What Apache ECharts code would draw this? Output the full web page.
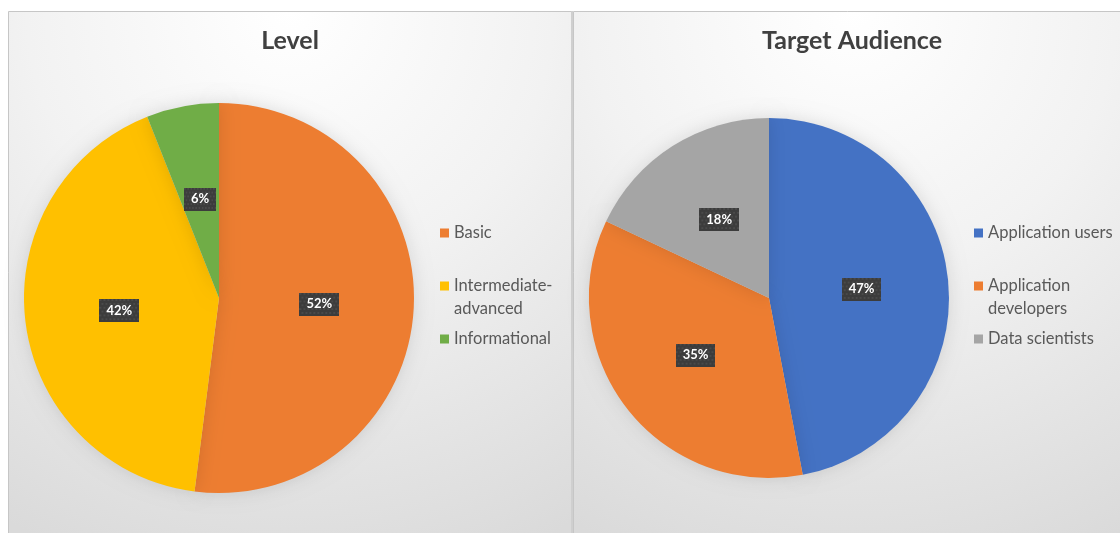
<!DOCTYPE html>
<html>
<head>
<meta charset="utf-8">
<script src="https://cdn.jsdelivr.net/npm/echarts@6/dist/echarts.min.js"></script>
<style>
html,body{margin:0;padding:0;background:#fff;}
#chart{width:1120px;height:533px;}
</style>
</head>
<body>
<div id="chart"></div>
<script>
// ---- data ----
const levelTitle = 'Level';
const levelCategories = ['Basic', 'Intermediate-advanced', 'Informational'];
const levelValues = [52, 42, 6];
const levelColors = ['#ED7D31', '#FFC000', '#70AD47'];

const audienceTitle = 'Target Audience';
const audienceCategories = ['Application users', 'Application developers', 'Data scientists'];
const audienceValues = [47, 35, 18];
const audienceColors = ['#4472C4', '#ED7D31', '#A5A5A5'];

const legendLabels = {
  'Intermediate-advanced': ' \nIntermediate-\nadvanced',
  'Application developers': ' \nApplication\ndevelopers'
};

const FONT = 'Lato, "Open Sans", sans-serif';

function toData(cats, vals, colors) {
  return cats.map((c, i) => ({ name: c, value: vals[i], itemStyle: { color: colors[i] } }));
}

// textured label background
function makePattern(w, h) {
  const c = document.createElement('canvas');
  c.width = w; c.height = h;
  const g = c.getContext('2d');
  g.fillStyle = '#3c3c3c';
  g.fillRect(0, 0, w, h);
  for (let y = 0; y < h; y += 4) {
    for (let x = ((y / 4) % 2) * 2; x < w; x += 4) {
      g.fillStyle = '#4a4a4a';
      g.fillRect(x, y, 2, 2);
    }
  }
  return c;
}
const labelBg = makePattern(40, 24);

function pieLabel() {
  return {
    show: true,
    position: 'inside',
    formatter: '{d}%',
    color: '#ffffff',
    fontFamily: FONT,
    fontWeight: 'bold',
    fontSize: 13,
    lineHeight: 15,
    backgroundColor: { image: labelBg },
    padding: [4, 7, 4, 7],
    shadowColor: 'rgba(0,0,0,0.35)',
    shadowBlur: 3,
    shadowOffsetX: 2,
    shadowOffsetY: 2
  };
}

function bgGradient() {
  return {
    type: 'radial', x: 0.5, y: 0.0, r: 1.1,
    colorStops: [
      { offset: 0, color: '#ffffff' },
      { offset: 0.45, color: '#f2f2f2' },
      { offset: 1, color: '#dadada' }
    ]
  };
}

const chart = echarts.init(document.getElementById('chart'), null, { renderer: 'canvas' });

const legendText = { fontFamily: FONT, fontSize: 16.5, color: '#595959', lineHeight: 23 };

chart.setOption({
  animation: false,
  backgroundColor: '#ffffff',
  graphic: [
    { type: 'rect', z: -10, silent: true, shape: { x: 8.5, y: 11.5, width: 563, height: 530 },
      style: { fill: bgGradient(), stroke: '#c6c6c6', lineWidth: 1 } },
    { type: 'rect', z: -10, silent: true, shape: { x: 573.5, y: 11.5, width: 560, height: 530 },
      style: { fill: bgGradient(), stroke: '#c6c6c6', lineWidth: 1 } },
    { type: 'rect', z: -9, silent: true, shape: { x: 571, y: 11, width: 2, height: 530 },
      style: { fill: '#cfcfcf' } }
  ],
  title: [
    { text: levelTitle, left: 285, top: 23, textAlign: 'center',
      textStyle: { fontFamily: FONT, fontWeight: 'bold', fontSize: 25, color: '#404040' } },
    { text: audienceTitle, left: 847, top: 23, textAlign: 'center',
      textStyle: { fontFamily: FONT, fontWeight: 'bold', fontSize: 25, color: '#404040' } }
  ],
  legend: [
    {
      orient: 'vertical', left: 440, top: 221.5, itemGap: 7, padding: 0,
      icon: 'rect', itemWidth: 9, itemHeight: 9,
      data: levelCategories, selectedMode: false,
      formatter: n => legendLabels[n] || n,
      textStyle: legendText
    },
    {
      orient: 'vertical', left: 974, top: 221.5, itemGap: 7, padding: 0,
      icon: 'rect', itemWidth: 9, itemHeight: 9,
      data: audienceCategories, selectedMode: false,
      formatter: n => legendLabels[n] || n,
      textStyle: legendText
    }
  ],
  series: [
    {
      type: 'pie', name: levelTitle,
      center: [219, 298], radius: 195,
      startAngle: 90, clockwise: true,
      data: toData(levelCategories, levelValues, levelColors),
      label: pieLabel(), labelLine: { show: false },
      itemStyle: { borderWidth: 0, shadowBlur: 18, shadowColor: 'rgba(0,0,0,0.12)' },
      emphasis: { disabled: true }
    },
    {
      type: 'pie', name: audienceTitle,
      center: [769, 298], radius: 180,
      startAngle: 90, clockwise: true,
      data: toData(audienceCategories, audienceValues, audienceColors),
      label: pieLabel(), labelLine: { show: false },
      itemStyle: { borderWidth: 0, shadowBlur: 18, shadowColor: 'rgba(0,0,0,0.12)' },
      emphasis: { disabled: true }
    }
  ]
});
</script>
</body>
</html>
